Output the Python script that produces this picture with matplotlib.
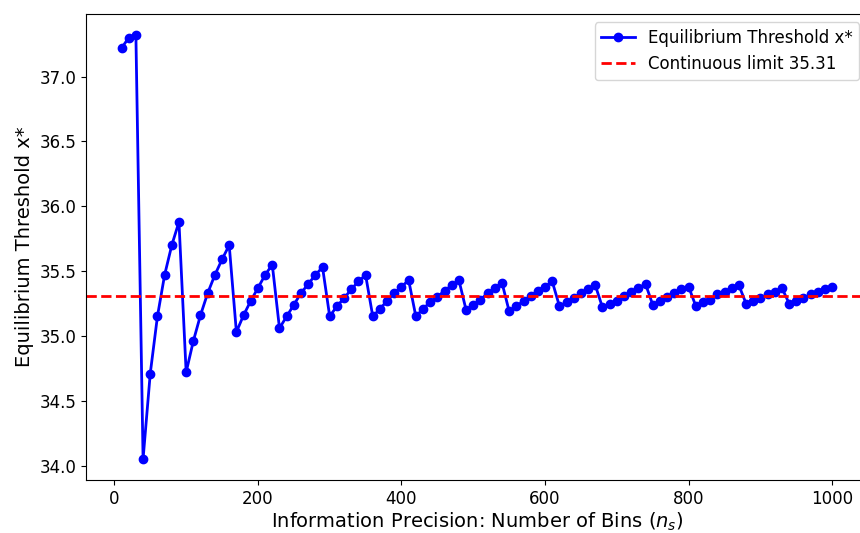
import matplotlib
matplotlib.use("Agg")
import matplotlib.pyplot as plt
import numpy as np

n_bins = list(range(10, 1001, 10))
threshold = [
    37.22, 37.30, 37.32, 34.05, 34.71, 35.15, 35.47, 35.70, 35.88, 34.72,
    34.96, 35.16, 35.33, 35.47, 35.59, 35.70, 35.03, 35.16, 35.27, 35.37,
    35.47, 35.55, 35.06, 35.15, 35.24, 35.33, 35.40, 35.47, 35.53, 35.15,
    35.23, 35.29, 35.36, 35.42, 35.47, 35.15, 35.21, 35.27, 35.33, 35.38,
    35.43, 35.15, 35.21, 35.26, 35.30, 35.35, 35.39, 35.43, 35.20, 35.24,
    35.28, 35.33, 35.37, 35.41, 35.19, 35.23, 35.27, 35.31, 35.35, 35.38,
    35.42, 35.23, 35.26, 35.29, 35.33, 35.36, 35.39, 35.22, 35.25, 35.27,
    35.31, 35.34, 35.37, 35.40, 35.24, 35.27, 35.30, 35.33, 35.36, 35.38,
    35.23, 35.26, 35.28, 35.32, 35.34, 35.37, 35.39, 35.25, 35.27, 35.29,
    35.32, 35.34, 35.37, 35.25, 35.27, 35.29, 35.32, 35.34, 35.36, 35.38,
]
continuous_limit = 35.31

fig = plt.figure(figsize=(8.6, 5.33), dpi=100)
ax = fig.add_axes([0.1, 0.0989, 0.909, 0.8749])

ax.plot(n_bins, threshold, color="blue", marker="o", linewidth=2, markersize=6,
        label="Equilibrium Threshold x*")
ax.axhline(continuous_limit, color="red", linestyle="--", linewidth=2,
           label=f"Continuous limit {continuous_limit:.2f}")

ax.set_xlabel("Information Precision: Number of Bins ($n_s$)", fontsize=14, labelpad=2)
ax.set_ylabel("Equilibrium Threshold x*", fontsize=14)
ax.tick_params(labelsize=12)
ax.legend(fontsize=12, loc="upper right")

fig.savefig("out.png", dpi=100)
